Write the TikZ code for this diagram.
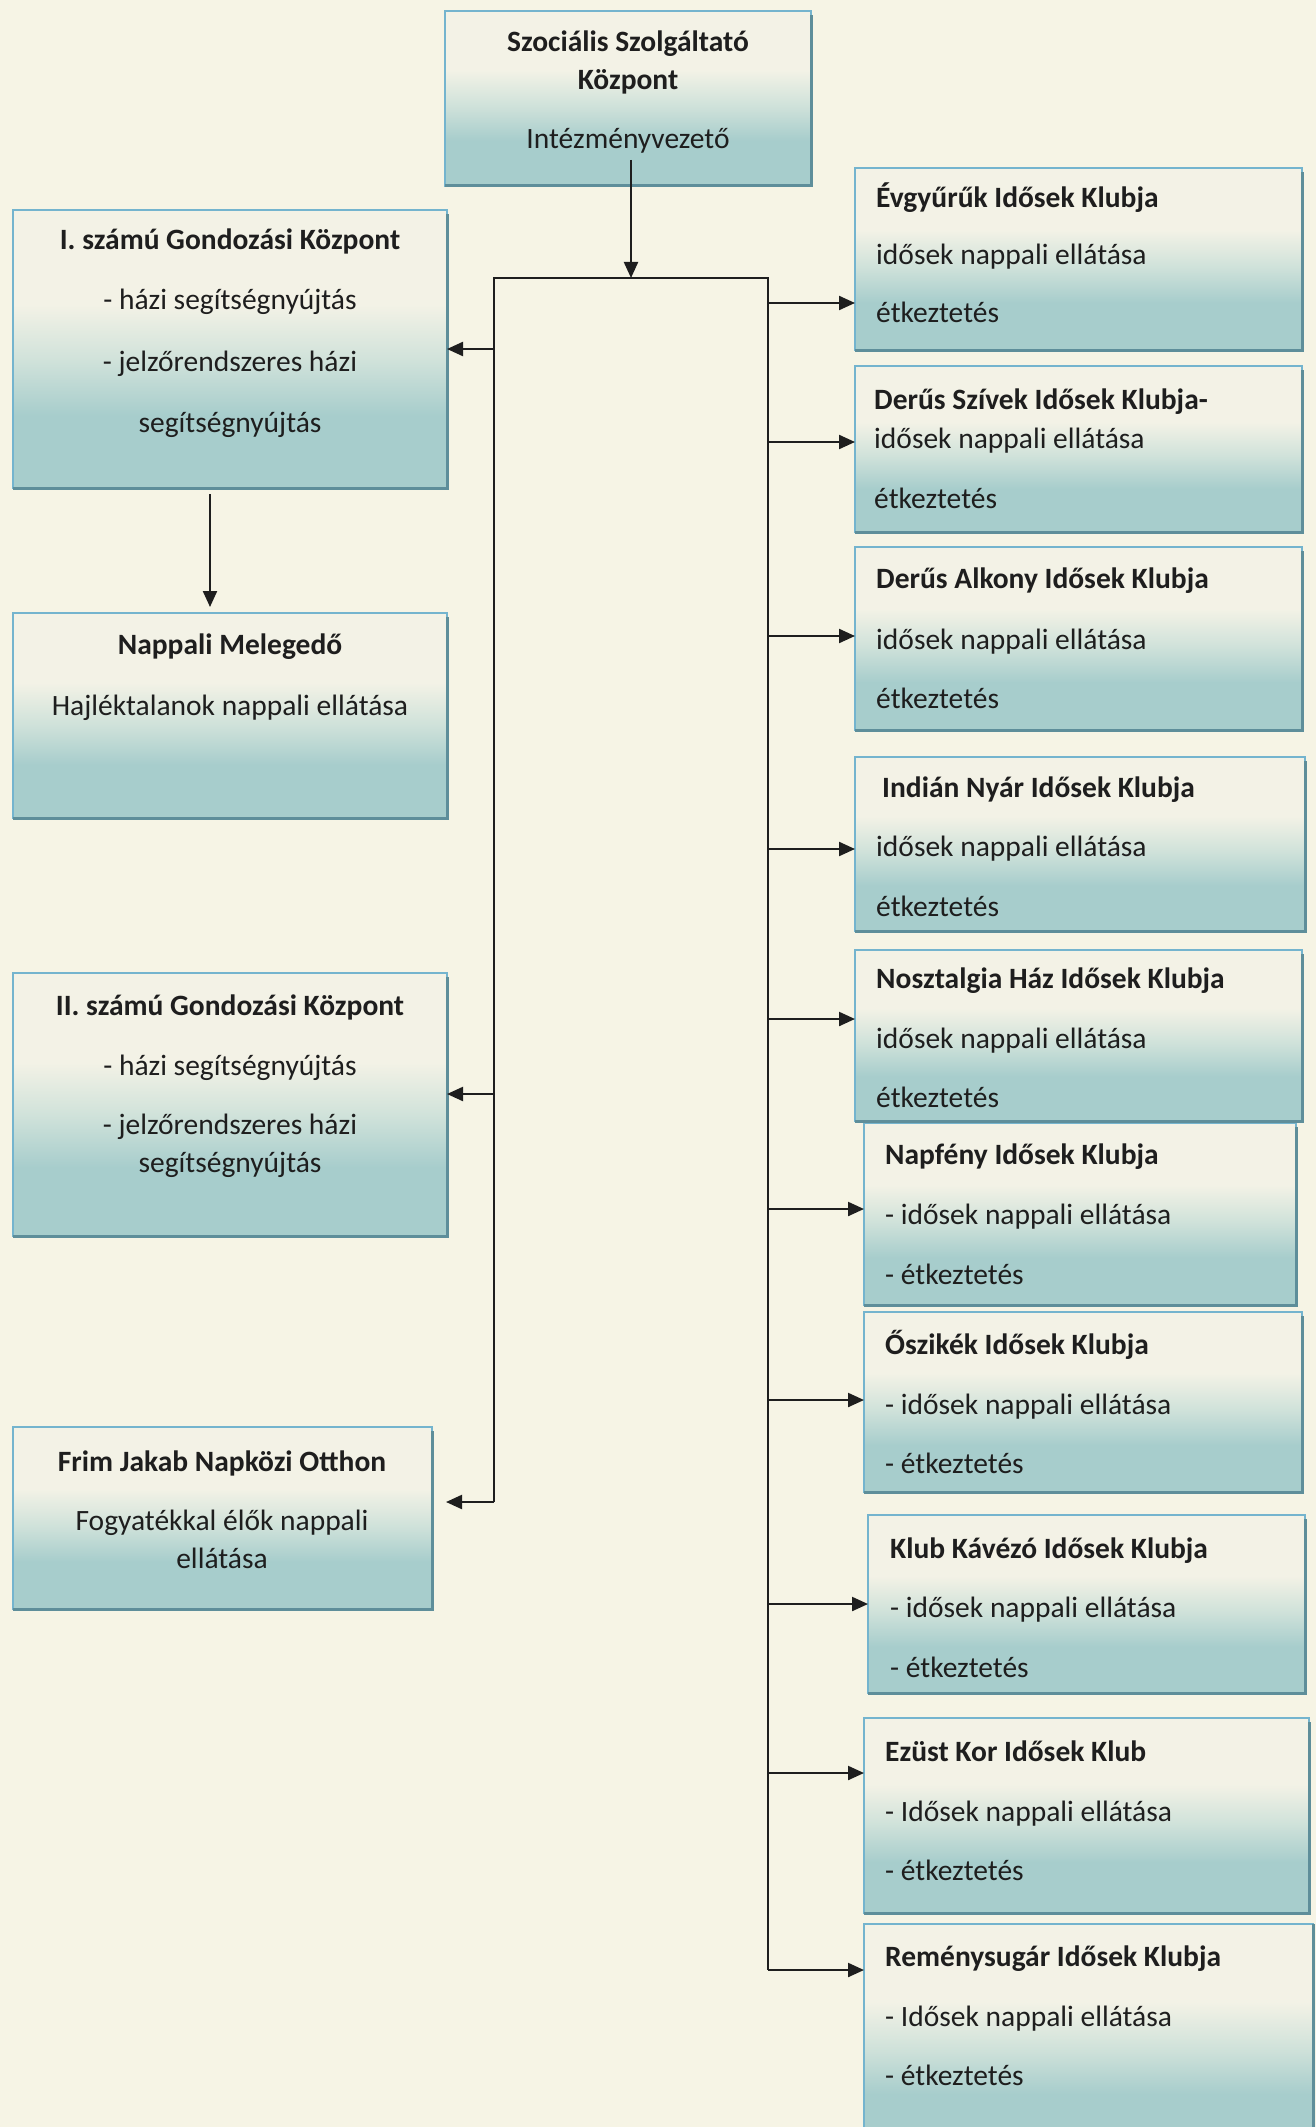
\documentclass[tikz,border=0pt]{standalone}
\usepackage{fontspec}
\setmainfont{Carlito}
\usetikzlibrary{arrows.meta}
\definecolor{bg}{HTML}{F6F4E5}
\definecolor{boxtop}{HTML}{F3F2E6}
\definecolor{boxmid}{HTML}{D0E2DA}
\definecolor{boxbot}{HTML}{A7CDCC}
\definecolor{boxline}{HTML}{74B4CE}
\definecolor{shadeline}{HTML}{5E8E9A}
\definecolor{ink}{HTML}{1E1E1E}
\pgfdeclareverticalshading{boxshade}{100bp}{color(0bp)=(boxbot); color(25bp)=(boxbot); color(38bp)=(boxbot); color(48bp)=(boxmid); color(58bp)=(boxtop); color(100bp)=(boxtop)}
\begin{document}
\begin{tikzpicture}[x=1pt,y=-1pt,
 box/.style={draw=boxline, line width=2pt, shading=boxshade, anchor=north west, inner sep=0pt, outer sep=0pt},
 txt/.style={inner sep=0pt, yshift=-4pt, text height=20pt, text depth=6pt, font=\fontsize{29.5}{35}\selectfont, text=ink},
 ttl/.style={txt, font=\fontsize{29.5}{35}\selectfont\bfseries},
 lt/.style={anchor=west},
 conn/.style={draw=ink, line width=2.2pt},
 arr/.style={conn, -{Triangle[length=16pt,width=14pt]}},
 shd/.style={draw=shadeline, line width=3pt}
]
\useasboundingbox (0,0) rectangle (1316,2127);
\fill[bg] (0,0) rectangle (1316,2127);

% ---- boxes ----
\node[box, minimum width=366pt, minimum height=175pt] (top) at (445,11) {};
\node[box, minimum width=434pt, minimum height=278pt] (gk1) at (13,210) {};
\node[box, minimum width=434pt, minimum height=205pt] (nap) at (13,613) {};
\node[box, minimum width=434pt, minimum height=263pt] (gk2) at (13,973) {};
\node[box, minimum width=419pt, minimum height=182pt] (frim) at (13,1427) {};

\node[box, minimum width=447pt, minimum height=182pt] (evg) at (855,168) {};
\node[box, minimum width=447pt, minimum height=166pt] (dsz) at (855,366) {};
\node[box, minimum width=447pt, minimum height=183pt] (dal) at (855,547) {};
\node[box, minimum width=450pt, minimum height=174pt] (ind) at (855,757) {};
\node[box, minimum width=447pt, minimum height=171pt] (nhz) at (855,950) {};
\node[box, minimum width=432pt, minimum height=182pt] (npf) at (864,1123) {};
\node[box, minimum width=438pt, minimum height=180pt] (osz) at (864,1312) {};
\node[box, minimum width=437pt, minimum height=178pt] (kkv) at (868,1515) {};
\node[box, minimum width=445pt, minimum height=195pt] (ezk) at (864,1718) {};
\node[box, minimum width=449pt, minimum height=230pt] (rsg) at (864,1924) {};

\foreach \n in {top,gk1,nap,gk2,frim,evg,dsz,dal,ind,nhz,npf,osz,kkv,ezk}
  \draw[shd] (\n.south west) -- (\n.south east) -- ([yshift=-4pt]\n.north east);
\draw[shd] (rsg.north east) -- (rsg.south east);

% ---- texts ----
\node[ttl] (t0a) at (628,41) {Szociális Szolgáltató};
\node[ttl] (t0b) at (628,79) {Központ};
\node[txt] (t0c) at (628,138) {Intézményvezető};

\node[ttl] (t1a) at (230,239) {I. számú Gondozási Központ};
\node[txt] (t1b) at (230,298) {- házi segítségnyújtás};
\node[txt] (t1c) at (230,360) {- jelzőrendszeres házi};
\node[txt] (t1d) at (230,421) {segítségnyújtás};

\node[ttl] (t2a) at (230,643) {Nappali Melegedő};
\node[txt] (t2b) at (230,704) {Hajléktalanok nappali ellátása};

\node[ttl] (t3a) at (230,1004) {II. számú Gondozási Központ};
\node[txt] (t3b) at (230,1064) {- házi segítségnyújtás};
\node[txt] (t3c) at (230,1123) {- jelzőrendszeres házi};
\node[txt] (t3d) at (230,1161) {segítségnyújtás};

\node[ttl] (t4a) at (222,1460) {Frim Jakab Napközi Otthon};
\node[txt] (t4b) at (222,1519) {Fogyatékkal élők nappali};
\node[txt] (t4c) at (222,1557) {ellátása};

\node[ttl,lt] (r1a) at (876,197) {Évgyűrűk Idősek Klubja};
\node[txt,lt] (r1b) at (876,254) {idősek nappali ellátása};
\node[txt,lt] (r1c) at (876,311) {étkeztetés};

\node[ttl,lt] (r2a) at (874,398) {Derűs Szívek Idősek Klubja-};
\node[txt,lt] (r2b) at (874,437) {idősek nappali ellátása};
\node[txt,lt] (r2c) at (874,497) {étkeztetés};

\node[ttl,lt] (r3a) at (876,577) {Derűs Alkony Idősek Klubja};
\node[txt,lt] (r3b) at (876,638) {idősek nappali ellátása};
\node[txt,lt] (r3c) at (876,697) {étkeztetés};

\node[ttl,lt] (r4a) at (882,786) {Indián Nyár Idősek Klubja};
\node[txt,lt] (r4b) at (876,845) {idősek nappali ellátása};
\node[txt,lt] (r4c) at (876,905) {étkeztetés};

\node[ttl,lt] (r5a) at (876,977) {Nosztalgia Ház Idősek Klubja};
\node[txt,lt] (r5b) at (876,1037) {idősek nappali ellátása};
\node[txt,lt] (r5c) at (876,1096) {étkeztetés};

\node[ttl,lt] (r6a) at (885,1153) {Napfény Idősek Klubja};
\node[txt,lt] (r6b) at (885,1213) {- idősek nappali ellátása};
\node[txt,lt] (r6c) at (885,1273) {- étkeztetés};

\node[ttl,lt] (r7a) at (885,1343) {Őszikék Idősek Klubja};
\node[txt,lt] (r7b) at (885,1403) {- idősek nappali ellátása};
\node[txt,lt] (r7c) at (885,1462) {- étkeztetés};

\node[ttl,lt] (r8a) at (890,1547) {Klub Kávézó Idősek Klubja};
\node[txt,lt] (r8b) at (890,1606) {- idősek nappali ellátása};
\node[txt,lt] (r8c) at (890,1666) {- étkeztetés};

\node[ttl,lt] (r9a) at (885,1750) {Ezüst Kor Idősek Klub};
\node[txt,lt] (r9b) at (885,1810) {- Idősek nappali ellátása};
\node[txt,lt] (r9c) at (885,1869) {- étkeztetés};

\node[ttl,lt] (r10a) at (885,1955) {Reménysugár Idősek Klubja};
\node[txt,lt] (r10b) at (885,2015) {- Idősek nappali ellátása};
\node[txt,lt] (r10c) at (885,2074) {- étkeztetés};

% ---- connectors ----
\coordinate (s0) at (631,160);
\coordinate (bl) at (494,278);
\coordinate (br) at (768,278);
\coordinate (aL1) at (494,349);
\coordinate (aL2) at (494,1094);
\coordinate (aL3) at (494,1502);
\coordinate (d0) at (210,494);
\coordinate (aR1) at (768,303);
\coordinate (aR2) at (768,442);
\coordinate (aR3) at (768,636);
\coordinate (aR4) at (768,849);
\coordinate (aR5) at (768,1019);
\coordinate (aR6) at (768,1209);
\coordinate (aR7) at (768,1400);
\coordinate (aR8) at (768,1604);
\coordinate (aR9) at (768,1773);
\coordinate (aR10) at (768,1970);

\draw[conn] (aL3) -- (bl) -- (br) -- (aR10);
\draw[arr] (s0) -- (s0 |- bl);
\draw[arr] (aL1) -- (aL1 -| gk1.east);
\draw[arr] (aL2) -- (aL2 -| gk2.east);
\draw[arr, shorten >=14pt] (aL3) -- (aL3 -| frim.east);
\draw[arr, shorten >=6pt] (d0) -- (d0 |- nap.north);
\draw[arr] (aR1) -- (aR1 -| evg.west);
\draw[arr] (aR2) -- (aR2 -| dsz.west);
\draw[arr] (aR3) -- (aR3 -| dal.west);
\draw[arr] (aR4) -- (aR4 -| ind.west);
\draw[arr] (aR5) -- (aR5 -| nhz.west);
\draw[arr] (aR6) -- (aR6 -| npf.west);
\draw[arr] (aR7) -- (aR7 -| osz.west);
\draw[arr] (aR8) -- (aR8 -| kkv.west);
\draw[arr] (aR9) -- (aR9 -| ezk.west);
\draw[arr] (aR10) -- (aR10 -| rsg.west);
\end{tikzpicture}
\end{document}
